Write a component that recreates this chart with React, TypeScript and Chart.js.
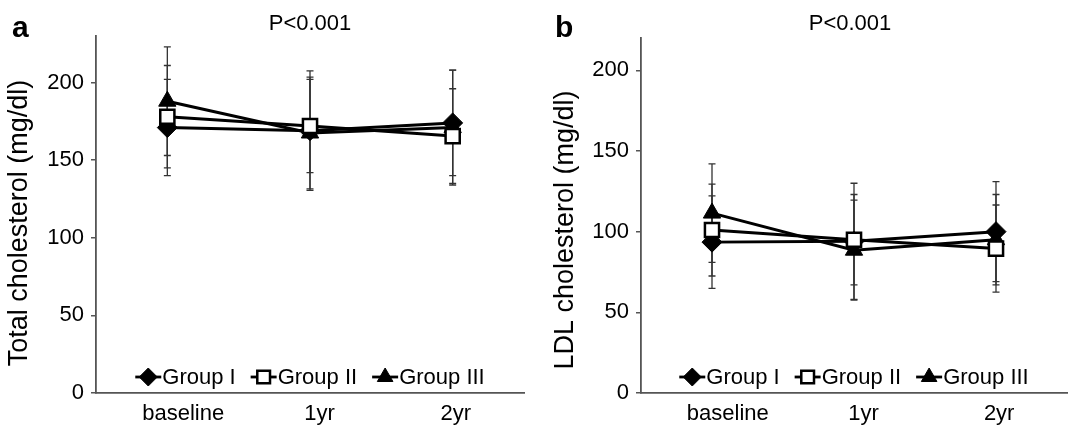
import React, { useEffect, useRef } from 'react';
import { Chart, registerables } from 'chart.js';

Chart.register(...registerables);

// ---------- data ----------
const categories = ['baseline', '1yr', '2yr'];
const groupNames = ['Group I', 'Group II', 'Group III'];

// Panel a: total cholesterol (mg/dl), mean and SD
const totalMeanI = [171, 169, 174];
const totalMeanII = [178, 172, 165.5];
const totalMeanIII = [188, 167.5, 171];
const totalSdI = [31, 38.5, 34];
const totalSdII = [33, 30, 30.5];
const totalSdIII = [35, 36, 37];

// Panel b: LDL cholesterol (mg/dl), mean and SD
const ldlMeanI = [93.5, 94, 100];
const ldlMeanII = [101, 95, 89.5];
const ldlMeanIII = [111.5, 88.5, 95];
const ldlSdI = [28.7, 36, 31];
const ldlSdII = [28.5, 28, 27];
const ldlSdIII = [30.5, 31, 28];

const yTickStep = 50;
const pTitle = 'P<0.001';

// ---------- styling ----------
const FONT = '"Liberation Sans", Arial, Helvetica, sans-serif';
const AXIS_COLOR = '#555';
const TEXT_COLOR = '#000';

type Style = 'rectRot' | 'rect' | 'triangle';
const markerStyles: Style[] = ['rectRot', 'rect', 'triangle'];
const markerFill = ['#000', '#fff', '#000'];
const markerBorder = [1, 2.5, 1];
const drawOrder = [1, 0, 2];

interface Panel {
  letter: string;
  yTitle: string;
  yMax: number;
  means: number[][];
  sds: number[][];
  width: number;
  left: number;
  pad: { left: number; right: number; top: number; bottom: number };
  yWidth: number;
  letterX: number;
  yTitleX: number;
  yTitleY: number;
}

const panels: Panel[] = [
  {
    letter: 'a',
    yTitle: 'Total cholesterol (mg/dl)',
    yMax: 230,
    means: [totalMeanI, totalMeanII, totalMeanIII],
    sds: [totalSdI, totalSdII, totalSdIII],
    width: 540,
    left: 0,
    pad: { left: 5, right: 16, top: 36, bottom: 0 },
    yWidth: 91,
    letterX: 12,
    yTitleX: 20,
    yTitleY: 223,
  },
  {
    letter: 'b',
    yTitle: 'LDL cholesterol (mg/dl)',
    yMax: 220,
    means: [ldlMeanI, ldlMeanII, ldlMeanIII],
    sds: [ldlSdI, ldlSdII, ldlSdIII],
    width: 541,
    left: 540,
    pad: { left: 10, right: 14, top: 38, bottom: 0 },
    yWidth: 91,
    letterX: 15,
    yTitleX: 26,
    yTitleY: 230,
  },
];

function drawMarker(
  ctx: CanvasRenderingContext2D,
  style: Style,
  x: number,
  y: number,
  r: number,
  fill: string,
  lw: number
) {
  ctx.beginPath();
  if (style === 'rectRot') {
    ctx.moveTo(x - r, y);
    ctx.lineTo(x, y - r);
    ctx.lineTo(x + r, y);
    ctx.lineTo(x, y + r);
    ctx.closePath();
  } else if (style === 'rect') {
    const s = r * Math.SQRT1_2;
    ctx.rect(x - s, y - s, 2 * s, 2 * s);
  } else {
    ctx.moveTo(x, y - r);
    ctx.lineTo(x + r * 0.866, y + r / 2);
    ctx.lineTo(x - r * 0.866, y + r / 2);
    ctx.closePath();
  }
  ctx.fillStyle = fill;
  ctx.fill();
  ctx.lineWidth = lw;
  ctx.strokeStyle = '#000';
  ctx.stroke();
}

function makeDecor(panel: Panel) {
  return {
    id: 'decor',
    beforeDatasetsDraw(chart: any) {
      const { ctx } = chart;
      const xs = chart.scales.x;
      const ys = chart.scales.y;
      ctx.save();
      ctx.strokeStyle = '#333';
      ctx.lineWidth = 1.3;
      panel.means.forEach((series, g) => {
        series.forEach((m, i) => {
          const sd = panel.sds[g][i];
          const px = xs.getPixelForValue(i);
          const top = ys.getPixelForValue(m + sd);
          const bot = ys.getPixelForValue(m - sd);
          ctx.beginPath();
          ctx.moveTo(px, top);
          ctx.lineTo(px, bot);
          ctx.moveTo(px - 3.5, top);
          ctx.lineTo(px + 3.5, top);
          ctx.moveTo(px - 3.5, bot);
          ctx.lineTo(px + 3.5, bot);
          ctx.stroke();
        });
      });
      ctx.restore();
    },
    afterDraw(chart: any) {
      const { ctx, chartArea } = chart;
      ctx.save();
      // panel letter
      ctx.fillStyle = '#000';
      ctx.font = `bold 30px ${FONT}`;
      ctx.textAlign = 'left';
      ctx.textBaseline = 'alphabetic';
      ctx.fillText(panel.letter, panel.letterX, 37);
      // title
      ctx.fillStyle = TEXT_COLOR;
      ctx.font = `22px ${FONT}`;
      ctx.textAlign = 'center';
      ctx.fillText(pTitle, 310, 30);
      // y-axis title (rotated)
      ctx.save();
      ctx.translate(panel.yTitleX, panel.yTitleY);
      ctx.rotate(-Math.PI / 2);
      ctx.font = `27px ${FONT}`;
      ctx.textAlign = 'center';
      ctx.textBaseline = 'middle';
      ctx.fillText(panel.yTitle, 0, 0);
      ctx.restore();
      // legend inside chart area, bottom
      ctx.font = `22px ${FONT}`;
      const symW = 26;
      const gapText = 1;
      const gapItem = 15;
      const widths = groupNames.map((n) => ctx.measureText(n).width);
      const total =
        widths.reduce((a, b) => a + b, 0) + groupNames.length * (symW + gapText) + gapItem * (groupNames.length - 1);
      let sx = (chartArea.left + chartArea.right) / 2 - total / 2;
      const ly = chartArea.bottom - 16;
      groupNames.forEach((name, g) => {
        ctx.beginPath();
        ctx.strokeStyle = '#000';
        ctx.lineWidth = 2.8;
        ctx.moveTo(sx, ly);
        ctx.lineTo(sx + symW, ly);
        ctx.stroke();
        drawMarker(ctx, markerStyles[g], sx + symW / 2, ly, 9, markerFill[g], markerBorder[g]);
        ctx.fillStyle = TEXT_COLOR;
        ctx.textAlign = 'left';
        ctx.textBaseline = 'middle';
        ctx.fillText(name, sx + symW + gapText, ly + 1);
        sx += symW + gapText + widths[g] + gapItem;
      });
      ctx.restore();
    },
  };
}

function PanelChart({ panel }: { panel: Panel }) {
  const ref = useRef<HTMLCanvasElement | null>(null);
  useEffect(() => {
    if (!ref.current) return;
    const datasets = panel.means.map((series, g) => ({
      label: groupNames[g],
      data: series,
      xAxisID: 'x',
      yAxisID: 'y',
      borderColor: '#000',
      borderWidth: 3,
      tension: 0,
      fill: false,
      order: drawOrder[g],
      pointStyle: markerStyles[g],
      pointRadius: 10,
      pointBackgroundColor: markerFill[g],
      pointBorderColor: '#000',
      pointBorderWidth: markerBorder[g],
    }));
    const chart = new Chart(ref.current, {
      type: 'line',
      data: { labels: categories, datasets },
      plugins: [makeDecor(panel)],
      options: {
        animation: false,
        responsive: false,
        events: [],
        layout: { padding: panel.pad },
        plugins: {
          legend: { display: false },
          tooltip: { enabled: false },
          title: { display: false },
        },
        scales: {
          x: {
            type: 'category',
            offset: true,
            display: false,
          },
          xl: {
            type: 'linear',
            axis: 'x',
            position: 'bottom',
            min: -0.64,
            max: 2.5,
            ticks: {
              stepSize: 1,
              includeBounds: false,
              autoSkip: false,
              maxRotation: 0,
              padding: 8,
              color: TEXT_COLOR,
              font: { family: FONT, size: 22 },
              callback: (v: any) => (categories[v as number] ?? ''),
            },
            grid: { display: false, drawTicks: false },
            border: { display: true, color: AXIS_COLOR, width: 1.8 },
            afterFit: (s: any) => {
              s.height = 39;
            },
          },
          y: {
            type: 'linear',
            position: 'left',
            min: 0,
            max: panel.yMax,
            ticks: {
              stepSize: yTickStep,
              includeBounds: false,
              padding: 7,
              color: TEXT_COLOR,
              font: { family: FONT, size: 22 },
            },
            grid: {
              display: true,
              drawOnChartArea: false,
              drawTicks: true,
              tickLength: 5,
              color: AXIS_COLOR,
              lineWidth: 1.5,
            },
            border: { display: true, color: AXIS_COLOR, width: 1.8 },
            title: { display: false },
            afterFit: (s: any) => {
              s.width = panel.yWidth;
            },
          },
        },
      } as any,
    });
    return () => chart.destroy();
  }, [panel]);
  return (
    <div style={{ position: 'absolute', left: panel.left, top: 0, width: panel.width, height: 432 }}>
      <canvas ref={ref} width={panel.width} height={432} />
    </div>
  );
}

export default function App() {
  return (
    <div
      style={{
        position: 'absolute',
        left: 0,
        top: 0,
        width: 1081,
        height: 432,
        background: '#fff',
        overflow: 'hidden',
      }}
    >
      {panels.map((p) => (
        <PanelChart key={p.letter} panel={p} />
      ))}
    </div>
  );
}
